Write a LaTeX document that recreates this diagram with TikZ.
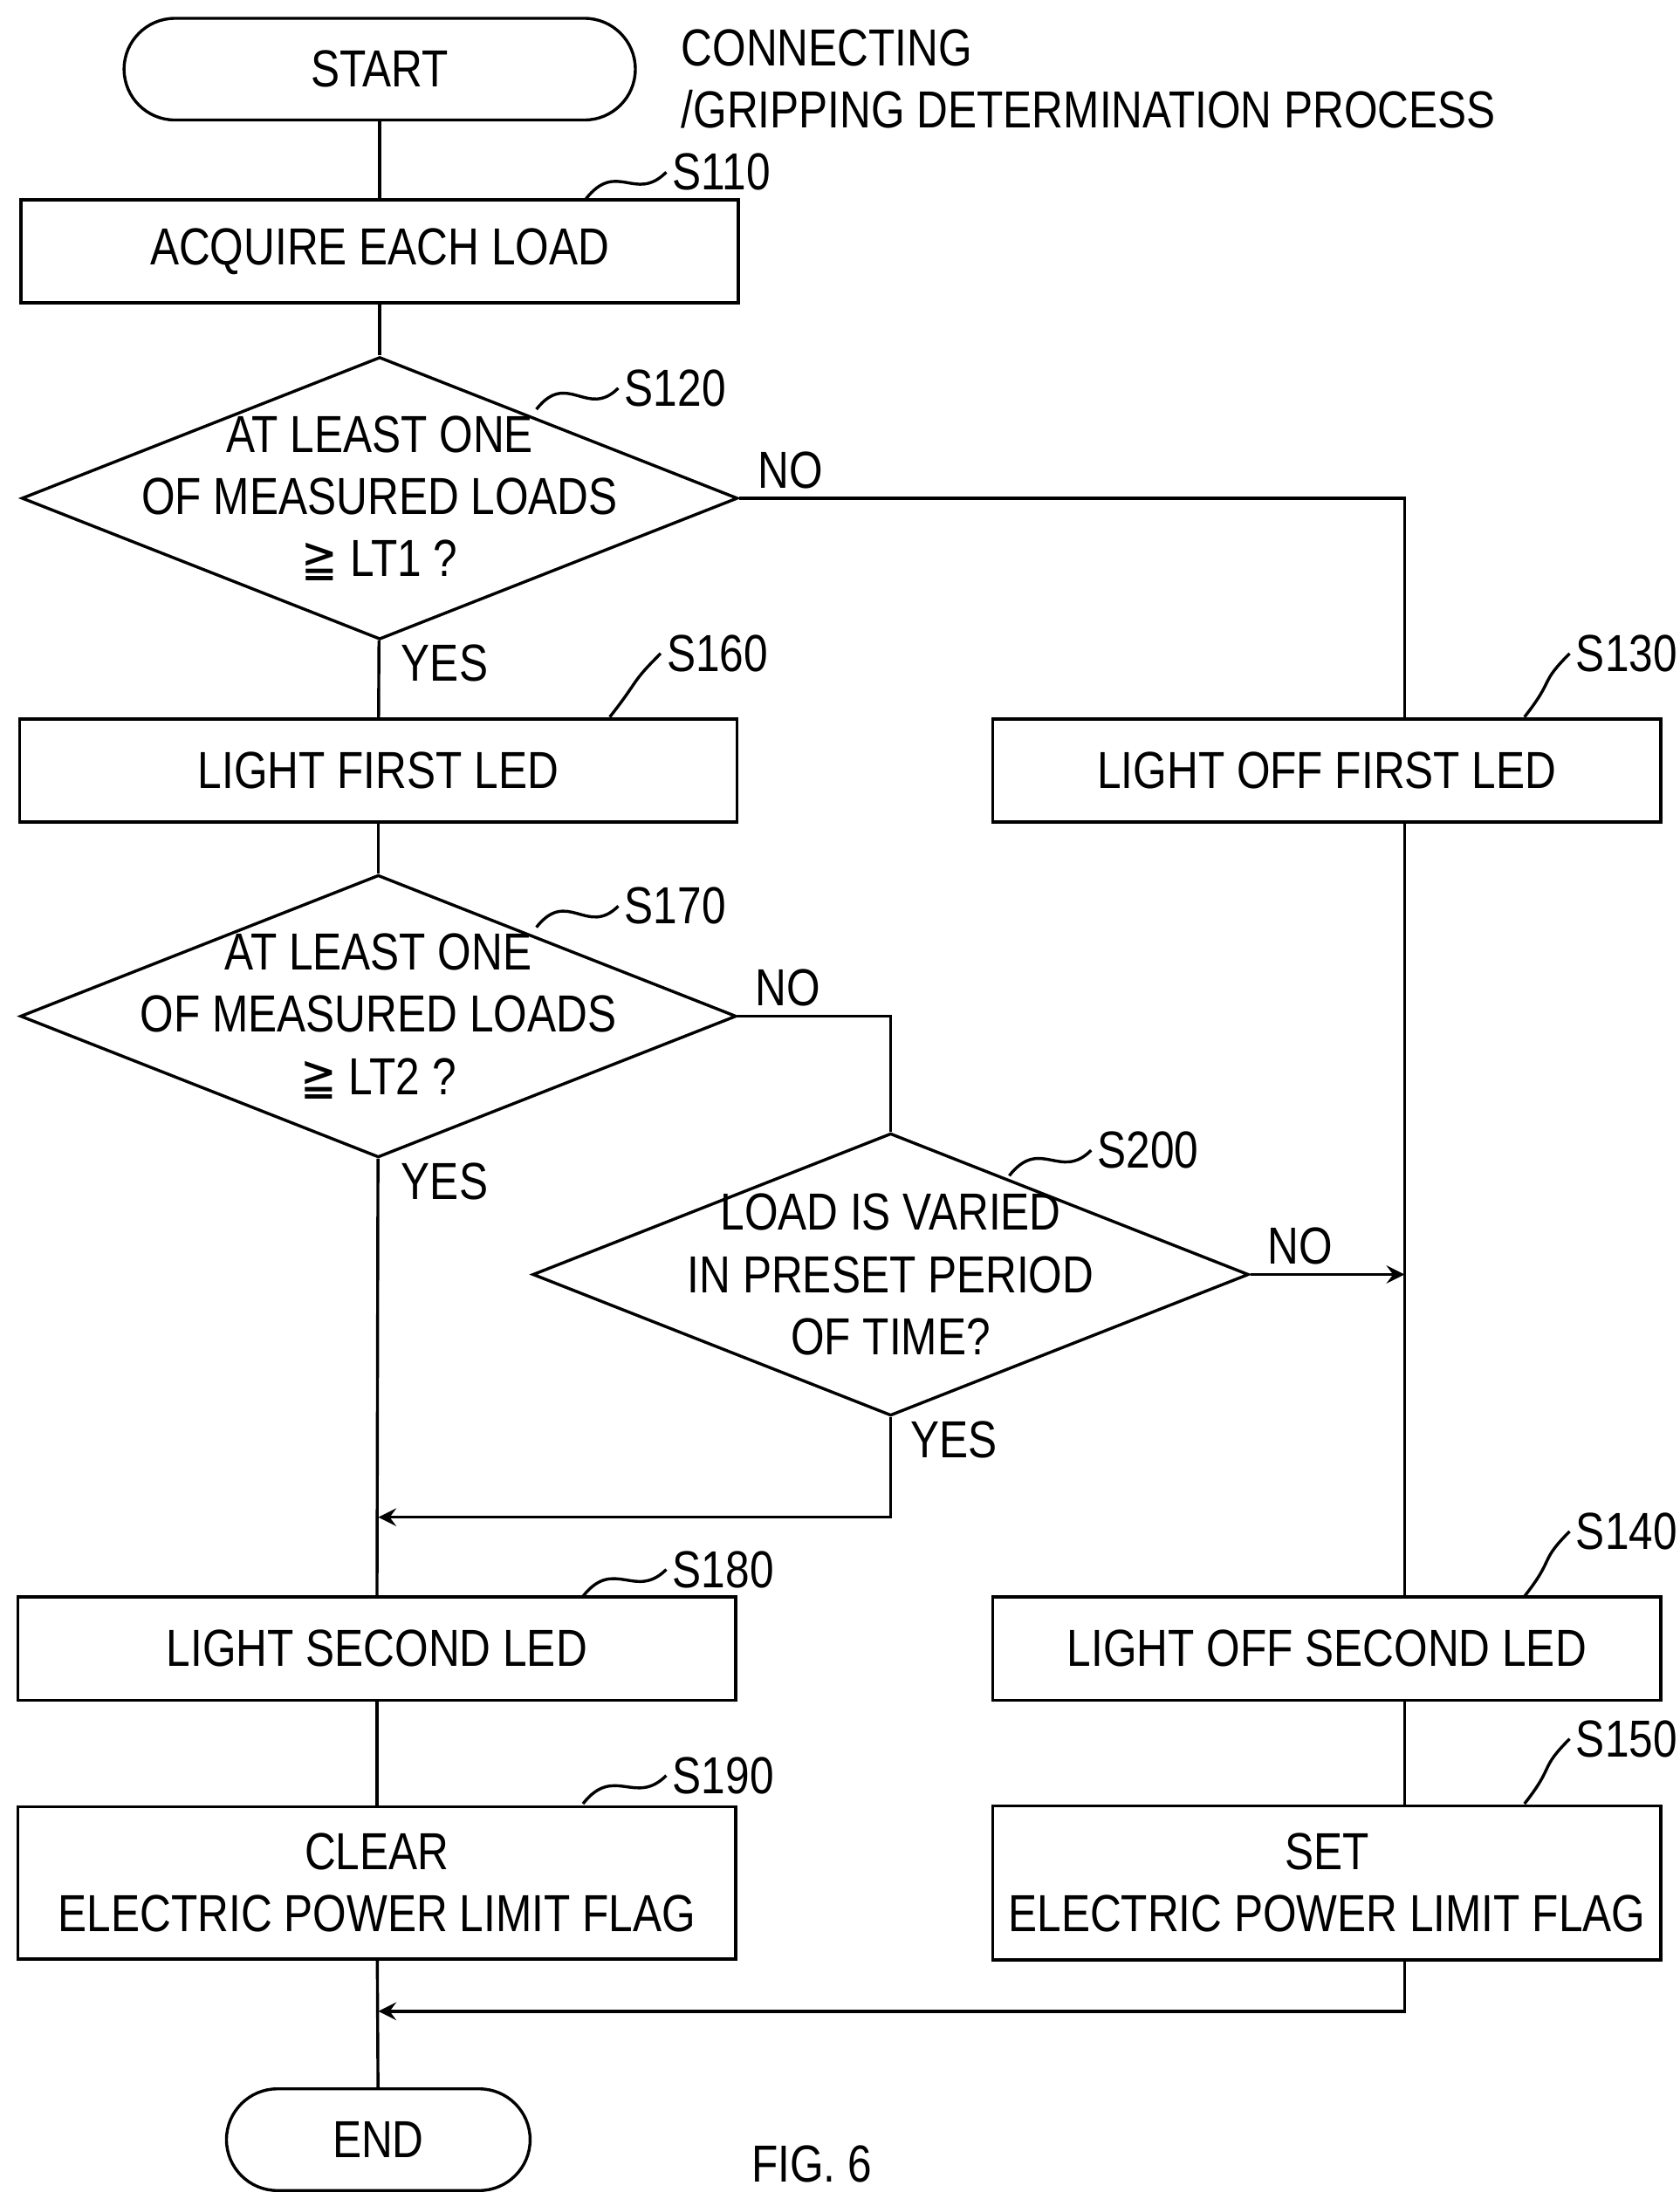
\documentclass[tikz,border=0pt]{standalone}
\usepackage{fontspec}
\setmainfont{Liberation Sans}[FakeStretch=0.83]
\newfontfamily\symfont{DejaVu Sans}[FakeStretch=0.83]
\usetikzlibrary{shapes.geometric,positioning}
\tikzset{>=stealth}
\tikzset{
  box/.style={draw,rectangle,minimum width=5.08cm,minimum height=0.73cm,align=center,inner sep=0pt},
  term/.style={draw,rectangle,rounded corners=0.36cm,minimum height=0.72cm,inner sep=0pt},
  dia/.style={draw,diamond,minimum width=5.07cm,minimum height=2cm,inner sep=0pt,aspect=2.535},
  line/.style={thick},
  tag/.style={anchor=west,inner sep=1pt}
}
\newcommand{\steplabel}[3]{\draw (#1) .. controls +(22,-28) and +(-22,22) .. (#2);
  \node[tag] at (#2) {#3};}
\begin{document}
\begin{tikzpicture}[x=0.01cm,y=-0.01cm,font=\fontsize{10.5pt}{12.5pt}\selectfont,line width=0.6pt]
\useasboundingbox (0,0) rectangle (1190,1563);
% left column
\node[term,minimum width=3.62cm] (start) at (269,49) {START};
\node[anchor=north west,align=left] (title) at (470,8) {CONNECTING\\/GRIPPING DETERMINATION PROCESS};
\node[box] (s110) at (269,178) {ACQUIRE EACH LOAD};
\node[dia] (s120) at (269,353) {};
\node[align=center] at (s120) {AT LEAST ONE\\OF MEASURED LOADS\\{\symfont ≧} LT1 ?};
\node[box] (s160) at (268,546) {LIGHT FIRST LED};
\node[dia] (s170) at (268,720) {};
\node[align=center] at (s170) {AT LEAST ONE\\OF MEASURED LOADS\\{\symfont ≧} LT2 ?};
\node[dia] (s200) at (631,903) {};
\node[align=center] at (s200) {LOAD IS VARIED\\IN PRESET PERIOD\\OF TIME?};
\node[box] (s180) at (267,1168) {LIGHT SECOND LED};
\node[box,minimum height=1.08cm] (s190) at (267,1334) {CLEAR\\ELECTRIC POWER LIMIT FLAG};
\node[term,minimum width=2.15cm] (end) at (268,1516) {END};
% right column
\node[box,minimum width=4.73cm] (s130) at (940,546) {LIGHT OFF FIRST LED};
\node[box,minimum width=4.73cm] (s140) at (940,1168) {LIGHT OFF SECOND LED};
\node[box,minimum width=4.73cm,minimum height=1.09cm] (s150) at (940,1334) {SET\\ELECTRIC POWER LIMIT FLAG};
\node (fig) at (575,1533) {FIG. 6};
% connectors
\coordinate (c1) at (995,353);
\coordinate (c2) at (631,720);
\coordinate (c3) at (995,903);
\coordinate (c4) at (631,1075);
\coordinate (c5) at (268,1075);
\coordinate (c6) at (995,1425);
\coordinate (c7) at (268,1425);
\draw (start) -- (s110);
\draw (s110) -- (s120);
\draw (s120) -- (s160);
\draw (s160) -- (s170);
\draw (s170) -- (s180);
\draw (s180) -- (s190);
\draw (s190) -- (end);
\draw (s120.east) -- (c1) -- (s130.north -| c1);
\draw (s130.south -| c1) -- (s140.north -| c1);
\draw (s140.south -| c1) -- (s150.north -| c1);
\draw (s170.east) -- (c2) -- (s200.north);
\draw[->] (s200.east) -- (c3);
\draw[->] (s200.south) -- (c4) -- (c5);
\draw[->] (s150.south -| c6) -- (c6) -- (c7);
% branch labels
\node at (560,333) {NO};
\node at (315,470) {YES};
\node at (558,700) {NO};
\node at (315,837) {YES};
\node at (921,883) {NO};
\node at (676,1020) {YES};
% step labels
\steplabel{415,141}{472,122}{S110}
\steplabel{380,290}{438,275}{S120}
\steplabel{432,508}{468,463}{S160}
\steplabel{1080,508}{1112,463}{S130}
\steplabel{380,657}{438,642}{S170}
\steplabel{715,833}{773,815}{S200}
\steplabel{413,1131}{472,1112}{S180}
\steplabel{1080,1131}{1112,1085}{S140}
\steplabel{413,1278}{472,1258}{S190}
\steplabel{1080,1278}{1112,1232}{S150}
\end{tikzpicture}
\end{document}
